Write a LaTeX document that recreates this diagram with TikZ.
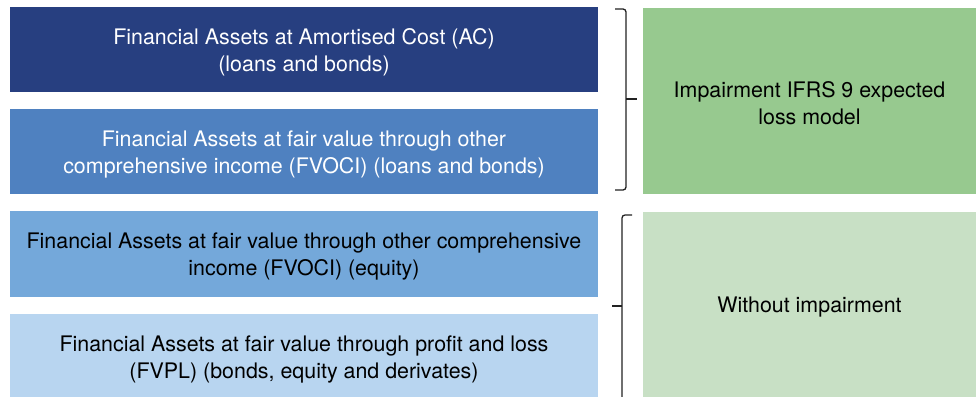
\documentclass[tikz,border=0pt]{standalone}
\usepackage{fontspec}
\setmainfont{TeX Gyre Heros}
\definecolor{acblue}{HTML}{273F80}
\definecolor{fvociblue}{HTML}{4F81C0}
\definecolor{eqblue}{HTML}{74A8DA}
\definecolor{fvplblue}{HTML}{B8D5F0}
\definecolor{impgreen}{HTML}{97C98F}
\definecolor{nogreen}{HTML}{C8E0C5}
\definecolor{bracecol}{HTML}{222222}
\tikzset{
  txt/.style={font=\fontsize{21.4}{27}\selectfont, inner sep=0pt, align=center, yshift=-2.5pt},
  boxfill/.style={inner sep=0pt, outer sep=0pt, draw=none},
  brace/.style={draw=bracecol, line width=1.3pt, rounded corners=3pt},
}
\begin{document}
\begin{tikzpicture}[x=1pt,y=-1pt]
\useasboundingbox (0,0) rectangle (976,396);
\begin{scope}
\clip (0,0) rectangle (976,396);
% left boxes
\node[boxfill, fill=acblue, minimum width=588pt, minimum height=85pt] (ac) at (304,49.5) {};
\node[txt, text=white] (actext) at (ac.center) {Financial Assets at Amortised Cost (AC)\\(loans and bonds)};
\node[boxfill, fill=fvociblue, minimum width=588pt, minimum height=85pt] (fvoci) at (304,151.5) {};
\node[txt, text=white] (fvocitext) at (fvoci.center) {Financial Assets at fair value through other\\comprehensive income (FVOCI) (loans and bonds)};
\node[boxfill, fill=eqblue, minimum width=588pt, minimum height=86pt] (eq) at (304,254) {};
\node[txt] (eqtext) at (eq.center) {Financial Assets at fair value through other comprehensive\\income (FVOCI) (equity)};
\fill[fvplblue] (10,314) rectangle (598,400);
\node[txt] (fvpl) at (304,356.5) {Financial Assets at fair value through profit and loss\\(FVPL) (bonds, equity and derivates)};
% right boxes
\node[boxfill, fill=impgreen, minimum width=333pt, minimum height=186pt] (imp) at (809.5,101) {};
\node[txt] (imptext) at (imp.center) {Impairment IFRS 9 expected\\loss model};
\fill[nogreen] (643,212) rectangle (976,400);
\node[txt] (noimp) at (809.5,305) {Without impairment};
% braces
\coordinate (b1t) at (615,9);
\coordinate (b1b) at (615,190);
\coordinate (b1m) at (626,99);
\coordinate (b1tip) at (637,99);
\draw[brace] (b1t) -- (626,9) -- (b1m) -- (626,190) -- (b1b);
\draw[draw=bracecol, line width=1.3pt] (b1m) -- (b1tip);
\coordinate (b2t) at (632,215);
\coordinate (b2m) at (622,306);
\coordinate (b2tip) at (612,306);
\coordinate (b2b) at (622,400);
\draw[brace] (b2t) -- (622,215) -- (b2m) -- (b2b);
\draw[draw=bracecol, line width=1.6pt] (b2m) -- (b2tip);
\end{scope}
\end{tikzpicture}
\end{document}
